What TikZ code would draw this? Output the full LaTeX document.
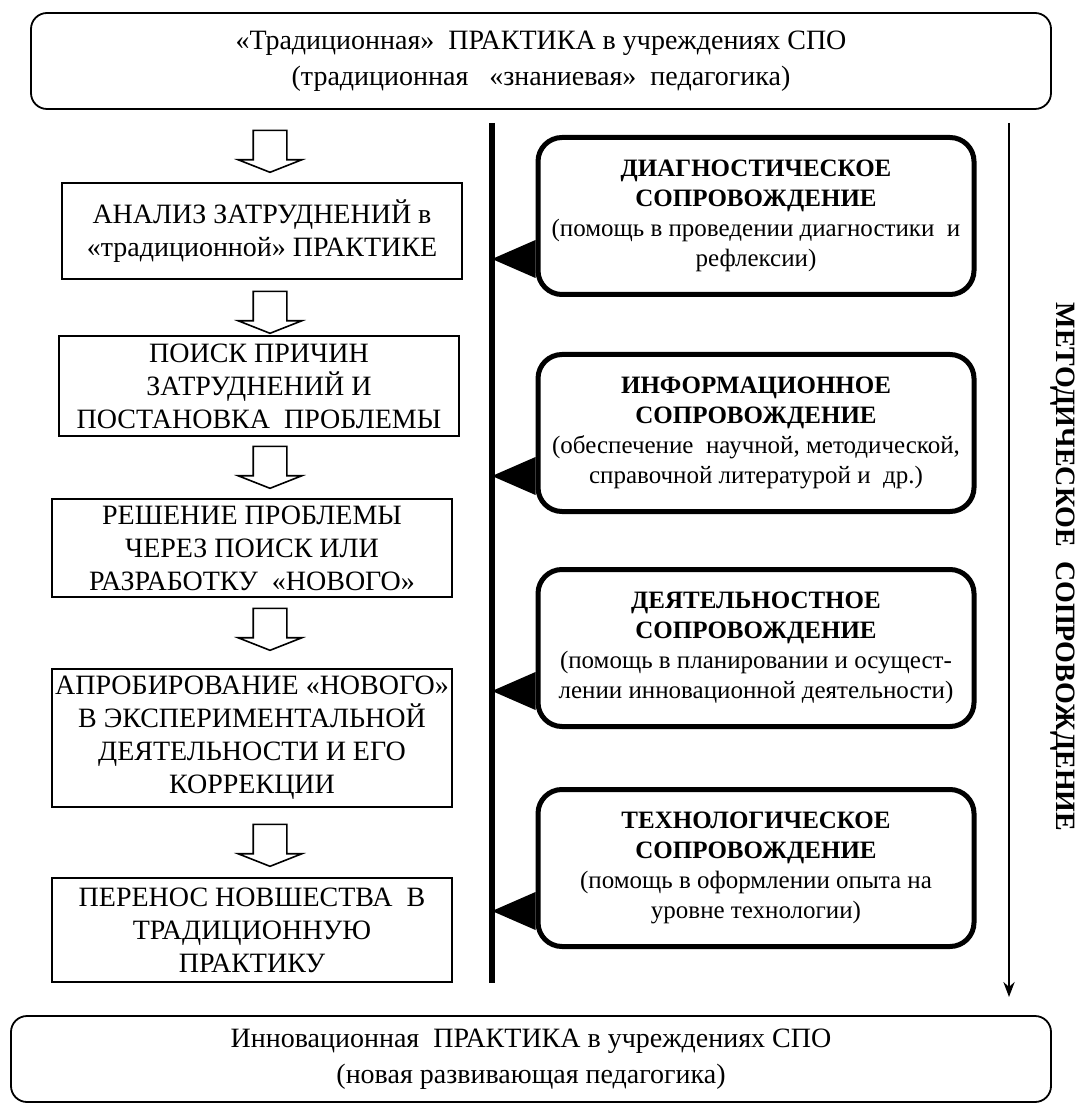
\documentclass[tikz,border=0pt]{standalone}
\usepackage{fontspec}
\setmainfont{Liberation Serif}
\usepackage{tikz}
\usetikzlibrary{arrows.meta, positioning, calc, shapes.arrows}

\begin{document}
\begin{tikzpicture}[x=0.5pt, y=-0.5pt, >=Stealth,
    pr/.style={rectangle, rounded corners=8pt, draw, line width=0.9pt, align=center, minimum width=510pt, font=\fontsize{14}{18}\selectfont},
    st/.style={rectangle, draw, line width=0.8pt, align=center, inner xsep=0pt, minimum width=200pt, font=\fontsize{14}{16.5}\selectfont},
    sp/.style={rectangle, rounded corners=12pt, draw, line width=2.5pt, align=center, inner xsep=2pt, minimum width=218pt, minimum height=78.5pt, font=\fontsize{12.5}{15}\selectfont},
    da/.style={single arrow, draw, line width=0.8pt, rotate=-90, inner xsep=0pt, inner ysep=8pt, minimum height=21pt, minimum width=31pt, single arrow head extend=7.5pt, single arrow tip angle=137}]
\useasboundingbox (0,0) rectangle (1085,1111);
% practice before and after
\node[pr, minimum height=48pt] (old) at (541,61) {«Традиционная»\ \ ПРАКТИКА в учреждениях СПО\\(традиционная\ \ \ «знаниевая»\ \ педагогика)};
\node[pr, minimum height=43pt, minimum width=520pt] (new) at (531,1059) {Инновационная\ \ ПРАКТИКА в учреждениях СПО\\(новая развивающая педагогика)};
% stages
\node[st, minimum height=48pt] (s1) at (262,231) {АНАЛИЗ ЗАТРУДНЕНИЙ в\\«традиционной» ПРАКТИКЕ};
\node[st, minimum height=50pt] (s2) at (259,386) {ПОИСК ПРИЧИН\\ЗАТРУДНЕНИЙ И\\ПОСТАНОВКА\ \ ПРОБЛЕМЫ};
\node[st, minimum height=49pt] (s3) at (252,548) {РЕШЕНИЕ ПРОБЛЕМЫ\\ЧЕРЕЗ ПОИСК ИЛИ\\РАЗРАБОТКУ\ \ «НОВОГО»};
\node[st, minimum height=69pt] (s4) at (252,738) {АПРОБИРОВАНИЕ «НОВОГО»\\В ЭКСПЕРИМЕНТАЛЬНОЙ\\ДЕЯТЕЛЬНОСТИ И ЕГО\\КОРРЕКЦИИ};
\node[st, minimum height=52pt] (s5) at (252,930) {ПЕРЕНОС НОВШЕСТВА\ \ В\\ТРАДИЦИОННУЮ\\ПРАКТИКУ};
\foreach \i/\y in {1/148, 2/309, 3/464, 4/626, 5/842}
  \node[da] (a\i) at (270,\y) {};
% support
\node[sp] (r1) at (756,216) {\textbf{ДИАГНОСТИЧЕСКОЕ}\\\textbf{СОПРОВОЖДЕНИЕ}\\(помощь в проведении диагностики\ \ и\\рефлексии)};
\node[sp, below=27.5pt of r1] (r2) {\textbf{ИНФОРМАЦИОННОЕ}\\\textbf{СОПРОВОЖДЕНИЕ}\\(обеспечение\ \ научной, методической,\\справочной литературой и\ \ др.)};
\node[sp, below=26.5pt of r2] (r3) {\textbf{ДЕЯТЕЛЬНОСТНОЕ}\\\textbf{СОПРОВОЖДЕНИЕ}\\(помощь в планировании и осущест-\\лении инновационной деятельности)};
\node[sp, below=29pt of r3] (r4) {\textbf{ТЕХНОЛОГИЧЕСКОЕ}\\\textbf{СОПРОВОЖДЕНИЕ}\\(помощь в оформлении опыта на\\уровне технологии)};
\coordinate (sp1) at (492,123);
\coordinate (sp2) at (492,983);
\draw[line width=3pt] (sp1) -- (sp2);
\foreach \i in {1,...,4}
  \fill ($(r\i.south west)+(0,-19)$) -- ($(r\i.south west)+(0,-57)$) -- ($($(sp1)!(r\i.south west)!(sp2)$)+(0,-38)$) -- cycle;
% methodical support
\coordinate (m1) at (1009,123);
\coordinate (m2) at (1009,997);
\draw[->, line width=1pt] (m1) -- (m2);
\node[rotate=-90, font=\fontsize{14}{17}\selectfont\bfseries] (ms) at (1063,567) {МЕТОДИЧЕСКОЕ\ \ СОПРОВОЖДЕНИЕ};
\end{tikzpicture}
\end{document}
